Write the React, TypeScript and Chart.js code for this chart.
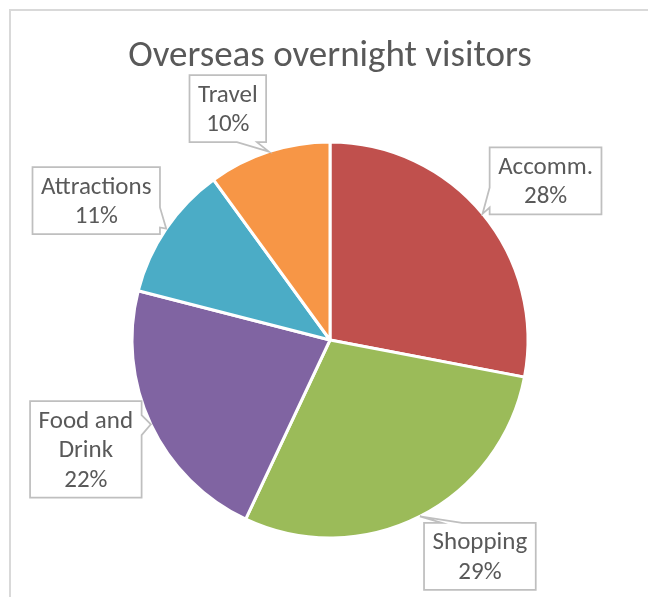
import { useEffect, useRef } from "react";
import { Chart, registerables } from "chart.js";

Chart.register(...registerables);

const TITLE = "Overseas overnight visitors";
const categories = ["Accomm.", "Shopping", "Food and Drink", "Attractions", "Travel"];
const values = [28, 29, 22, 11, 10];
const colors = ["#C0504D", "#9BBB59", "#8064A2", "#4BACC6", "#F79646"];

const FONT = 'Carlito, Lato, "Open Sans", sans-serif';
const TEXT = "#595959";
// label box centre offset from the slice's outer mid point
const labelOffsets: [number, number][] = [
  [63, -33],
  [60, 40],
  [-65, 25],
  [-70, -28],
  [-41, -43],
];

const calloutPlugin = {
  id: "callouts",
  afterDraw(chart: any) {
    const ctx: CanvasRenderingContext2D = chart.ctx;
    const meta = chart.getDatasetMeta(0);
    const total = values.reduce((a, b) => a + b, 0);
    ctx.save();
    const first = meta.data[0].getProps(["x", "y"], true);
    ctx.font = `37px ${FONT}`;
    ctx.fillStyle = TEXT;
    ctx.textAlign = "center";
    ctx.textBaseline = "alphabetic";
    ctx.fillText(TITLE, first.x, 55);

    const lineH = 29.5;
    const pad = 4;
    meta.data.forEach((arc: any, i: number) => {
      const p = arc.getProps(["x", "y", "startAngle", "endAngle", "outerRadius"], true);
      const mid = (p.startAngle + p.endAngle) / 2;
      const ax = p.x + Math.cos(mid) * p.outerRadius;
      const ay = p.y + Math.sin(mid) * p.outerRadius;
      ctx.font = `25px ${FONT}`;
      // wrap category
      const words = categories[i].split(" ");
      const lines: string[] = [];
      let cur = "";
      words.forEach((w) => {
        const test = cur ? cur + " " + w : w;
        if (cur && ctx.measureText(test).width > 122) {
          lines.push(cur);
          cur = w;
        } else cur = test;
      });
      if (cur) lines.push(cur);
      lines.push(Math.round((values[i] / total) * 100) + "%");
      const maxW = Math.max(...lines.map((l) => ctx.measureText(l).width));
      const w = maxW + 17;
      const h = lines.length * lineH + pad * 2;
      const cx = ax + labelOffsets[i][0];
      const cy = ay + labelOffsets[i][1];
      const l = cx - w / 2, r = cx + w / 2, t = cy - h / 2, b = cy + h / 2;
      const dx = (ax - cx) / (w / 2);
      const dy = (ay - cy) / (h / 2);
      let side: string;
      if (Math.abs(dy) > Math.abs(dx)) side = dy < 0 ? "top" : "bottom";
      else side = dx < 0 ? "left" : "right";
      const clamp = (v: number, s: number, e: number) => {
        const len = e - s;
        return Math.min(Math.max(v, s + 0.25 * len), e - 0.25 * len);
      };
      const horiz = side === "top" || side === "bottom";
      const bc = horiz ? clamp(ax, l, r) : clamp(ay, t, b);
      const hw = Math.min(10, (horiz ? w : h) * 0.15);
      ctx.beginPath();
      ctx.moveTo(l, t);
      if (side === "top") { ctx.lineTo(bc - hw, t); ctx.lineTo(ax, ay); ctx.lineTo(bc + hw, t); }
      ctx.lineTo(r, t);
      if (side === "right") { ctx.lineTo(r, bc - hw); ctx.lineTo(ax, ay); ctx.lineTo(r, bc + hw); }
      ctx.lineTo(r, b);
      if (side === "bottom") { ctx.lineTo(bc + hw, b); ctx.lineTo(ax, ay); ctx.lineTo(bc - hw, b); }
      ctx.lineTo(l, b);
      if (side === "left") { ctx.lineTo(l, bc + hw); ctx.lineTo(ax, ay); ctx.lineTo(l, bc - hw); }
      ctx.closePath();
      ctx.fillStyle = "#ffffff";
      ctx.fill();
      ctx.strokeStyle = "#bfbfbf";
      ctx.lineWidth = 1.75;
      ctx.stroke();
      ctx.fillStyle = TEXT;
      ctx.textAlign = "center";
      ctx.textBaseline = "middle";
      lines.forEach((ln, k) => {
        ctx.fillText(ln, cx, t + pad + lineH * (k + 0.5) + 1.5);
      });
    });
    ctx.restore();
  },
};

export default function App() {
  const ref = useRef<HTMLCanvasElement>(null);
  useEffect(() => {
    const chart = new Chart(ref.current!, {
      type: "pie",
      data: {
        labels: categories,
        datasets: [
          {
            data: values,
            backgroundColor: colors,
            borderColor: "#ffffff",
            borderWidth: 3,
            radius: 198,
          } as any,
        ],
      },
      options: {
        responsive: false,
        animation: false,
        layout: { padding: { left: 100, right: 99, top: 110, bottom: 38 } },
        plugins: {
          legend: { display: false },
          tooltip: { enabled: false },
          title: { display: false },
        },
      },
      plugins: [calloutPlugin],
    });
    return () => chart.destroy();
  }, []);
  return (
    <div
      style={{
        position: "fixed",
        left: 9,
        top: 9,
        right: 0,
        bottom: 0,
        borderLeft: "2px solid #d9d9d9",
        borderTop: "2px solid #d9d9d9",
        background: "#fff",
      }}
    >
      <canvas ref={ref} width={637} height={586} style={{ display: "block", width: 637, height: 586 }} />
    </div>
  );
}
